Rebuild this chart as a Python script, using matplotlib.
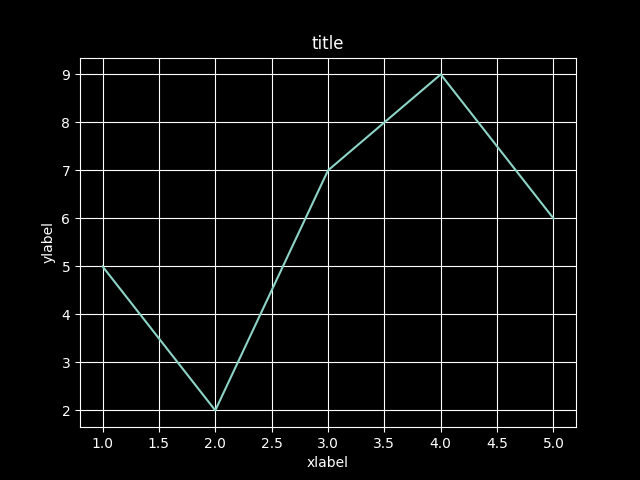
import matplotlib
matplotlib.use("Agg")
import matplotlib.pyplot as plt

x_values = [1, 2, 3, 4, 5]
y_values = [5, 2, 7, 9, 6]

plt.style.use('dark_background')
fig, ax = plt.subplots(figsize=(6.4, 4.8), dpi=100)
ax.plot(x_values, y_values)
ax.grid(True)
ax.set_title("title")
ax.set_xlabel("xlabel")
ax.set_ylabel("ylabel")
fig.savefig("out.png")
